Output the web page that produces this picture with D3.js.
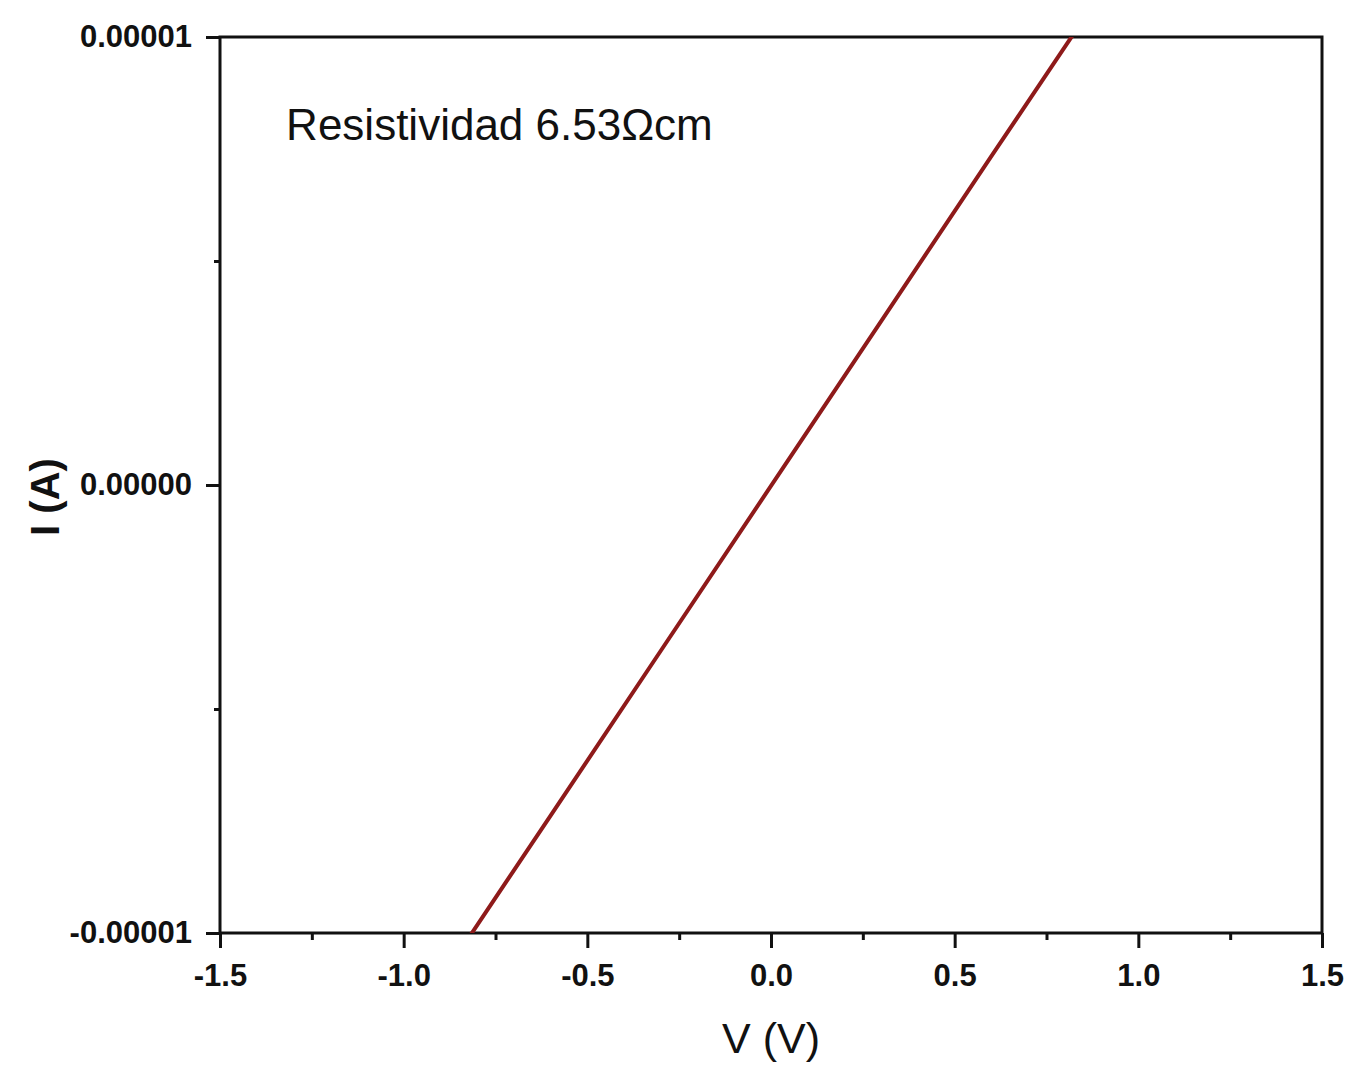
<!DOCTYPE html>
<html>
<head>
<meta charset="utf-8">
<script src="https://cdn.jsdelivr.net/npm/d3@7"></script>
<style>
  body { margin: 0; background: #fff; }
  svg { display: block; font-family: "Liberation Sans", Arial, sans-serif; }
  .tick text { font-size: 31px; font-weight: bold; fill: #111; }
  .axis path, .axis line { stroke: #111; }
</style>
</head>
<body>
<div id="chart"></div>
<script>
// data
var voltage = [-0.9, -0.6, -0.3, 0.0, 0.3, 0.6, 0.9];
var current = [-1.105e-5, -0.738e-5, -0.370e-5, -0.002e-5, 0.366e-5, 0.734e-5, 1.100e-5];
var xTicks = [-1.5, -1.0, -0.5, 0.0, 0.5, 1.0, 1.5];
var xMinor = [-1.25, -0.75, -0.25, 0.25, 0.75, 1.25];
var yTicks = [-0.00001, 0.0, 0.00001];
var yMinor = [-0.000005, 0.000005];
var note = "Resistividad 6.53\u03A9cm";

var W = 1352, H = 1069;
var margin = { top: 37, right: 30, bottom: 136, left: 220 };
var width = W - margin.left - margin.right;
var height = H - margin.top - margin.bottom;

var svg = d3.select("#chart").append("svg")
  .attr("width", W)
  .attr("height", H);
var g = svg.append("g")
  .attr("transform", "translate(" + margin.left + "," + margin.top + ")");

var x = d3.scaleLinear().domain([-1.5, 1.5]).range([0, width]);
var y = d3.scaleLinear().domain([-0.00001, 0.00001]).range([height, 0]);

// plain hyphen minus like the original
var fmtX = function (d) { return d3.format(".1f")(d).replace("\u2212", "-"); };
var fmtY = function (d) { return d === 0 ? "0.00000" : d3.format(".5f")(d).replace("\u2212", "-"); };

g.append("clipPath").attr("id", "clip")
  .append("rect").attr("width", width).attr("height", height);

// minor ticks
g.append("g").attr("class", "axis")
  .attr("transform", "translate(0," + height + ")")
  .call(d3.axisBottom(x).tickValues(xMinor).tickSize(7).tickFormat(""))
  .call(function (s) { s.select(".domain").remove(); s.selectAll("line").attr("stroke-width", 3); });
g.append("g").attr("class", "axis")
  .call(d3.axisLeft(y).tickValues(yMinor).tickSize(6).tickFormat(""))
  .call(function (s) { s.select(".domain").remove(); s.selectAll("line").attr("stroke-width", 3); });

// major ticks
g.append("g").attr("class", "axis")
  .attr("transform", "translate(0," + height + ")")
  .call(d3.axisBottom(x).tickValues(xTicks).tickSize(15).tickPadding(16).tickFormat(fmtX))
  .call(function (s) {
    s.select(".domain").remove();
    s.selectAll("line").attr("stroke-width", 3);
    s.selectAll("text").attr("dy", "0.71em");
  });
g.append("g").attr("class", "axis")
  .call(d3.axisLeft(y).tickValues(yTicks).tickSize(14).tickPadding(14).tickFormat(fmtY))
  .call(function (s) {
    s.select(".domain").remove();
    s.selectAll("line").attr("stroke-width", 3);
  });

// frame
g.append("rect")
  .attr("width", width).attr("height", height)
  .attr("fill", "none").attr("stroke", "#111").attr("stroke-width", 3);

// I-V line
var line = d3.line()
  .x(function (d, i) { return x(voltage[i]); })
  .y(function (d, i) { return y(current[i]); });
g.append("path")
  .datum(current)
  .attr("clip-path", "url(#clip)")
  .attr("d", line)
  .attr("fill", "none")
  .attr("stroke", "#8e1a1a")
  .attr("stroke-width", 4);

// annotation
g.append("text")
  .attr("x", x(-1.32)).attr("y", 103)
  .attr("font-size", 44)
  .attr("fill", "#111")
  .text(note);

// axis titles
svg.append("text")
  .attr("x", margin.left + x(0)).attr("y", 1053)
  .attr("text-anchor", "middle")
  .attr("font-size", 43)
  .attr("fill", "#111")
  .text("V (V)");
svg.append("text")
  .attr("transform", "translate(59,497) rotate(-90)")
  .attr("text-anchor", "middle")
  .attr("font-size", 40)
  .attr("font-weight", "bold")
  .attr("fill", "#111")
  .text("I (A)");
</script>
</body>
</html>
